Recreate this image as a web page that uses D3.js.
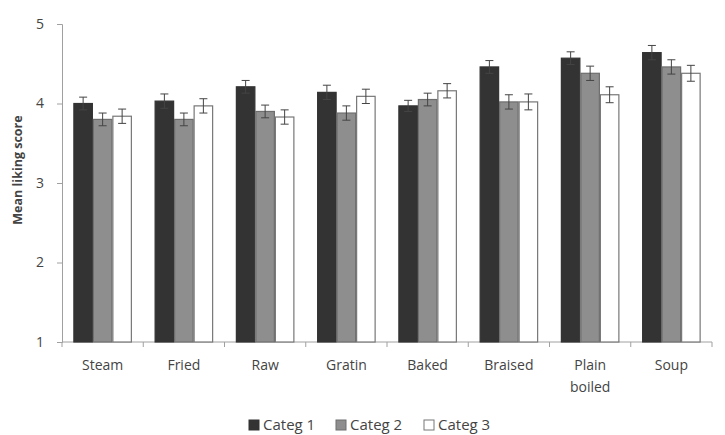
<!DOCTYPE html>
<html>
<head>
<meta charset="utf-8">
<script src="https://cdn.jsdelivr.net/npm/d3@7"></script>
<style>
  body { margin: 0; background: #fff; }
  svg text { font-family: "Open Sans", "Liberation Sans", sans-serif; fill: #444; }
</style>
</head>
<body>
<svg id="chart"></svg>
<script>
// data
const methods = ["Steam", "Fried", "Raw", "Gratin", "Baked", "Braised", "Plain boiled", "Soup"];
const seriesNames = ["Categ 1", "Categ 2", "Categ 3"];
const categ1 = [4.00, 4.03, 4.21, 4.14, 3.97, 4.46, 4.57, 4.64];
const categ2 = [3.80, 3.80, 3.90, 3.88, 4.05, 4.02, 4.38, 4.46];
const categ3 = [3.84, 3.97, 3.83, 4.09, 4.16, 4.02, 4.11, 4.38];
const err1 = [0.08, 0.09, 0.08, 0.09, 0.07, 0.08, 0.08, 0.09];
const err2 = [0.08, 0.08, 0.08, 0.09, 0.08, 0.09, 0.09, 0.09];
const err3 = [0.09, 0.09, 0.09, 0.09, 0.09, 0.10, 0.10, 0.10];
const yTicks = [1, 2, 3, 4, 5];

const W = 725, H = 435;
const margin = {top: 24, right: 13, bottom: 93, left: 62},
  width = W - margin.left - margin.right,
  height = H - margin.top - margin.bottom;

const fills = ["#333333", "#8e8e8e", "#ffffff"];
const strokes = ["#333333", "#6e6e6e", "#777777"];

const svg = d3.select("#chart")
    .attr("width", W)
    .attr("height", H);

const g = svg.append("g")
    .attr("transform", `translate(${margin.left},${margin.top})`);

const x = d3.scaleBand()
    .domain(methods)
    .range([0, width])
    .paddingInner(0.28)
    .paddingOuter(0.14);

const xs = d3.scaleBand()
    .domain(seriesNames)
    .range([0, x.bandwidth()]);

const y = d3.scaleLinear()
    .domain([1, 5])
    .range([height, 0]);

const rows = methods.map((m, i) => ({
    method: m,
    vals: [
        {s: seriesNames[0], v: categ1[i], e: err1[i], k: 0},
        {s: seriesNames[1], v: categ2[i], e: err2[i], k: 1},
        {s: seriesNames[2], v: categ3[i], e: err3[i], k: 2}
    ]
}));

// axes
const axisColor = "#a0a0a0";
const yAxis = g.append("g")
    .call(d3.axisLeft(y).tickValues(yTicks).tickSize(5).tickPadding(13).tickFormat(d3.format("d")));
yAxis.select(".domain").attr("stroke", axisColor);
yAxis.selectAll(".tick line").attr("stroke", axisColor);
yAxis.selectAll("text").style("font-size", "14px").attr("fill", "#444");

const boundaries = d3.range(methods.length + 1).map(i => i * width / methods.length);

const xAxis = g.append("g")
    .attr("transform", `translate(0,${height})`);
xAxis.append("line")
    .attr("x1", 0).attr("x2", width)
    .attr("stroke", axisColor);
xAxis.selectAll(".xt")
    .data(boundaries)
    .join("line")
    .attr("x1", d => d).attr("x2", d => d)
    .attr("y1", 0).attr("y2", 5)
    .attr("stroke", axisColor);

xAxis.selectAll(".xl")
    .data(methods)
    .join("text")
    .attr("text-anchor", "middle")
    .attr("transform", d => `translate(${x(d) + x.bandwidth() / 2},28)`)
    .style("font-size", "14px")
    .each(function(d) {
        const words = d.split(" ");
        d3.select(this).selectAll("tspan")
            .data(words)
            .join("tspan")
            .attr("x", 0)
            .attr("dy", (w, j) => j === 0 ? 0 : "1.6em")
            .text(w => w);
    });

// bars
const groups = g.selectAll(".grp")
    .data(rows)
    .join("g")
    .attr("transform", d => `translate(${x(d.method)},0)`);

groups.selectAll("rect")
    .data(d => d.vals)
    .join("rect")
    .attr("x", d => xs(d.s) + 0.5)
    .attr("y", d => y(d.v))
    .attr("width", xs.bandwidth() - 1)
    .attr("height", d => y(1) - y(d.v))
    .attr("fill", d => fills[d.k])
    .attr("stroke", d => strokes[d.k])
    .attr("stroke-width", 1.2);

// error bars
const eb = groups.selectAll(".err")
    .data(d => d.vals)
    .join("g")
    .attr("transform", d => `translate(${xs(d.s) + xs.bandwidth() / 2},0)`);
eb.append("line")
    .attr("y1", d => y(d.v + d.e)).attr("y2", d => y(d.v - d.e))
    .attr("stroke", "#444").attr("stroke-width", 1);
eb.append("line")
    .attr("x1", -4).attr("x2", 4)
    .attr("y1", d => y(d.v + d.e)).attr("y2", d => y(d.v + d.e))
    .attr("stroke", "#444").attr("stroke-width", 1);
eb.append("line")
    .attr("x1", -4).attr("x2", 4)
    .attr("y1", d => y(d.v - d.e)).attr("y2", d => y(d.v - d.e))
    .attr("stroke", "#444").attr("stroke-width", 1);

// y title
svg.append("text")
    .attr("transform", `translate(22,170) rotate(-90)`)
    .attr("text-anchor", "middle")
    .style("font-size", "12.5px")
    .style("font-weight", "bold")
    .attr("fill", "#333")
    .text("Mean liking score");

// legend
const legendX = [249, 336, 424];
const legend = svg.append("g")
    .attr("transform", `translate(0,425)`);
const li = legend.selectAll("g")
    .data(seriesNames)
    .join("g")
    .attr("transform", (d, i) => `translate(${legendX[i]},0)`);
li.append("rect")
    .attr("x", 0).attr("y", -5)
    .attr("width", 10).attr("height", 10)
    .attr("fill", (d, i) => fills[i])
    .attr("stroke", (d, i) => strokes[i]);
li.append("text")
    .attr("x", 14).attr("y", 5)
    .style("font-size", "15px")
    .text(d => d);
</script>
</body>
</html>
